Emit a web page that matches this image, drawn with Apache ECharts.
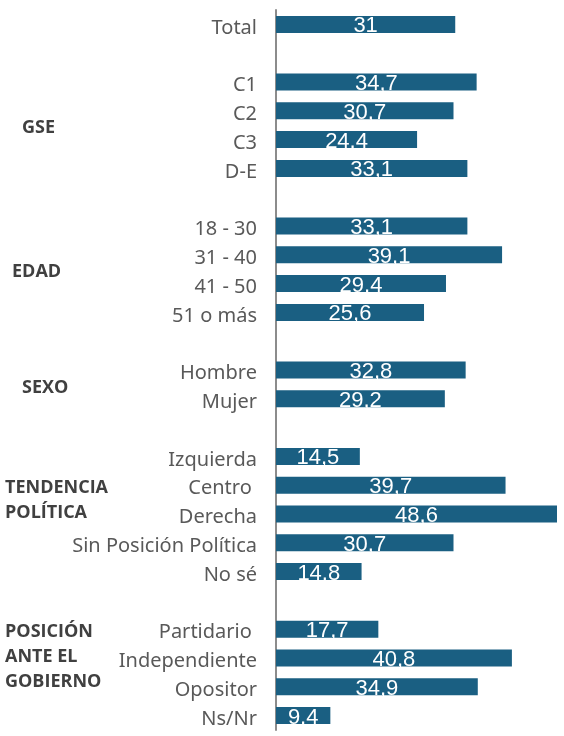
<!DOCTYPE html>
<html>
<head>
<meta charset="utf-8">
<script src="https://cdn.jsdelivr.net/npm/echarts@6/dist/echarts.min.js"></script>
<style>
  html, body { margin: 0; padding: 0; background: #fff; }
  #main { width: 564px; height: 736px; }
</style>
</head>
<body>
<div id="main"></div>
<script>
// categories top to bottom, blank strings are the gaps between groups
var categories = [
  'Total', '',
  'C1', 'C2', 'C3', 'D-E', ' ',
  '18 - 30', '31 - 40', '41 - 50', '51 o más', '  ',
  'Hombre', 'Mujer', '   ',
  'Izquierda', 'Centro ', 'Derecha', 'Sin Posición Política', 'No sé', '    ',
  'Partidario ', 'Independiente', 'Opositor', 'Ns/Nr'
]
var values = [
  31, null,
  34.7, 30.7, 24.4, 33.1, null,
  33.1, 39.1, 29.4, 25.6, null,
  32.8, 29.2, null,
  14.5, 39.7, 48.6, 30.7, 14.8, null,
  17.7, 40.8, 34.9, 9.4
]
// group titles and the first / last category rows of each group
var groupNames = [
  { lines: ['GSE'], first: 'C1', last: 'D-E', left: 22 },
  { lines: ['EDAD'], first: '18 - 30', last: '51 o más', left: 12 },
  { lines: ['SEXO'], first: 'Hombre', last: 'Mujer', left: 22 },
  { lines: ['TENDENCIA', 'POLÍTICA'], first: 'Centro ', last: 'Centro ', left: 5 },
  { lines: ['POSICIÓN', 'ANTE EL', 'GOBIERNO'], first: 'Partidario ', last: 'Partidario ', left: 5 }
]

var chart = echarts.init(document.getElementById('main'))

var option = {
  animation: false,
  grid: {
    left: 276,
    right: 7,
    top: 10,
    bottom: 6
  },
  xAxis: {
    type: 'value',
    min: 0,
    max: 48.6,
    show: false
  },
  yAxis: {
    type: 'category',
    inverse: true,
    data: categories,
    axisLine: {
      show: true,
      lineStyle: { color: '#8c8c8c', width: 2 }
    },
    axisTick: { show: false },
    axisLabel: {
      margin: 19,
      verticalAlign: 'top',
      lineHeight: 7,
      fontFamily: 'Noto Sans',
      fontSize: 20,
      color: '#595959'
    }
  },
  series: [
    {
      type: 'bar',
      data: values,
      barWidth: 17,
      itemStyle: { color: '#1a5f82' },
      label: {
        show: true,
        position: 'inside',
        offset: [0, 2],
        color: '#fff',
        fontFamily: 'Liberation Sans',
        fontSize: 22,
        formatter: function (p) {
          return String(p.value).replace('.', ',')
        }
      }
    }
  ]
}
chart.setOption(option)

// bold group titles next to their rows, placed through the axis scale
var lineH = 25
var graphics = groupNames.map(function (g) {
  var y1 = chart.convertToPixel({ yAxisIndex: 0 }, g.first)
  var y2 = chart.convertToPixel({ yAxisIndex: 0 }, g.last)
  var mid = (y1 + y2) / 2 + 3
  return {
    type: 'text',
    left: g.left,
    top: mid - lineH / 2,
    style: {
      text: g.lines.join('\n'),
      lineHeight: lineH,
      fontFamily: 'Open Sans',
      fontWeight: 'bold',
      fontSize: 18,
      fill: '#404040'
    }
  }
})
chart.setOption({ graphic: graphics })
</script>
</body>
</html>
